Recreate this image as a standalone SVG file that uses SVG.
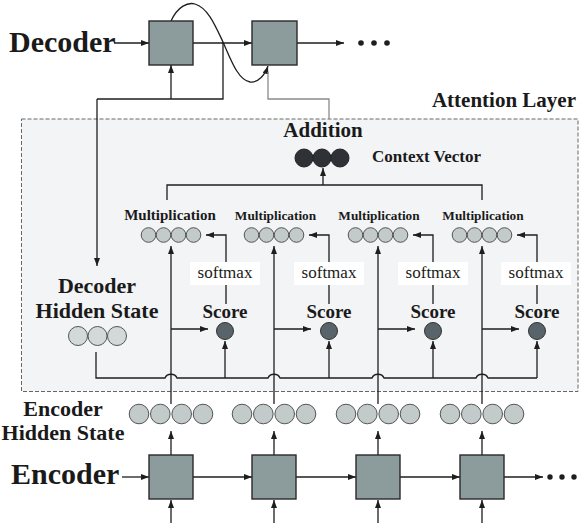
<svg xmlns="http://www.w3.org/2000/svg" width="582" height="523" viewBox="0 0 582 523">
<defs>
<marker id="ah" viewBox="0 0 8 6" refX="8" refY="3" markerWidth="8" markerHeight="6" markerUnits="userSpaceOnUse" orient="auto"><path d="M0,0 L8,3 L0,6 z" fill="#1e1e1e"/></marker>
<style>
text{font-family:"Liberation Serif","Times New Roman",serif;fill:#1a1a1a}
.b{font-weight:bold}
.c{text-anchor:middle}
.box{fill:#8c9b9b;stroke:#2a2a2a;stroke-width:1.4}
.ln{fill:none;stroke:#1e1e1e;stroke-width:1.3}
.ar{fill:none;stroke:#1e1e1e;stroke-width:1.3;marker-end:url(#ah)}
.hs{fill:#c3cbca;stroke:#555;stroke-width:1}
.ds{fill:#d3d9d9;stroke:#555;stroke-width:1}
.sc{fill:#59636a;stroke:#333;stroke-width:1}
.cv{fill:#2e3236;stroke:#222;stroke-width:1}
.sm{fill:#ffffff}
.dot{fill:#1e1e1e}
</style>
</defs>
<rect width="582" height="523" fill="#ffffff"/>

<g id="attention-layer">
<rect x="21.5" y="119" width="556.5" height="272.5" fill="#f3f4f6" stroke="#666" stroke-width="1" stroke-dasharray="4,2"/>
<text class="b" x="576" y="107" font-size="21" text-anchor="end">Attention Layer</text>
</g>

<g id="connectors">
<path class="ar" d="M114,43 L149,43"/>
<path class="ar" d="M193,43 L252,43"/>
<path class="ar" d="M297,43 L344,43"/>
<path class="ar" d="M171,99 L171,65"/>
<path class="ln" d="M223,42 L223,99 L97,99"/>
<path class="ar" d="M97,99 L97,266"/>
<path class="ar" d="M171,21 C178,6 188,2 195,4 C208,8 215,25 223,42 C231,60 238,80 250,82 C258,83 265,75 268,66"/>
<path fill="none" stroke="#8a8a8a" stroke-width="1.3" d="M329,119 L329,99 L268,99 L268,72"/>
<path class="ln" d="M167,200 L167,185 L482,185 L482,200"/>
<path class="ar" d="M323,185 L323,168"/>
<path class="ar" d="M171,404 L171,246"/>
<path class="ar" d="M274,404 L274,246"/>
<path class="ar" d="M378,404 L378,246"/>
<path class="ar" d="M482,404 L482,246"/>
<path class="ar" d="M171,329 L208,329"/>
<path class="ar" d="M274,329 L311,329"/>
<path class="ar" d="M378,329 L415,329"/>
<path class="ar" d="M482,329 L519,329"/>
<path class="ar" d="M226,262 L226,235 L206,235"/>
<path class="ar" d="M329,262 L329,235 L309,235"/>
<path class="ar" d="M433,262 L433,235 L413,235"/>
<path class="ar" d="M537,262 L537,235 L517,235"/>
<path class="ln" d="M226,285 L226,304 M329,285 L329,304 M433,285 L433,304 M537,285 L537,304"/>
<path class="ln" d="M96,352 L96,378 L165,378 C167,373 175,373 177,378 L268,378 C270,373 278,373 280,378 L372,378 C374,373 382,373 384,378 L476,378 C478,373 486,373 488,378 L537,378"/>
<path class="ar" d="M225,378 L225,341"/>
<path class="ar" d="M329,378 L329,341"/>
<path class="ar" d="M433,378 L433,341"/>
<path class="ar" d="M537,378 L537,341"/>
<path class="ar" d="M122,477 L149,477"/>
<path class="ar" d="M193,477 L252,477"/>
<path class="ar" d="M296,477 L356,477"/>
<path class="ar" d="M400,477 L460,477"/>
<path class="ar" d="M504,477 L543,477"/>
<path class="ar" d="M171,455 L171,431"/>
<path class="ar" d="M274,455 L274,431"/>
<path class="ar" d="M378,455 L378,431"/>
<path class="ar" d="M482,455 L482,431"/>
<path class="ar" d="M171,523 L171,500"/>
<path class="ar" d="M274,523 L274,500"/>
<path class="ar" d="M378,523 L378,500"/>
<path class="ar" d="M482,523 L482,500"/>
</g>

<g id="decoder">
<text class="b" x="9" y="52" font-size="30">Decoder</text>
<rect id="dec1" class="box" x="149" y="21" width="44" height="44"/>
<rect id="dec2" class="box" x="252" y="21" width="45" height="44"/>
<circle class="dot" cx="361" cy="43" r="2.8"/>
<circle class="dot" cx="374" cy="43" r="2.8"/>
<circle class="dot" cx="387" cy="43" r="2.8"/>
</g>

<g id="addition">
<text class="b c" x="323" y="137" font-size="21">Addition</text>
</g>

<g id="context-vector">
<circle class="cv" cx="304" cy="158" r="9"/>
<circle class="cv" cx="322" cy="158" r="9"/>
<circle class="cv" cx="340" cy="158" r="9"/>
<text class="b" x="372" y="162" font-size="17">Context Vector</text>
</g>

<g id="mult1">
<text class="b c" x="170" y="220" font-size="15">Multiplication</text>
<circle class="hs" cx="148.5" cy="235" r="7.3"/><circle class="hs" cx="163.5" cy="235" r="7.3"/><circle class="hs" cx="178.5" cy="235" r="7.3"/><circle class="hs" cx="193.5" cy="235" r="7.3"/>
</g>
<g id="mult2">
<text class="b c" x="275.5" y="220" font-size="13.3">Multiplication</text>
<circle class="hs" cx="251.5" cy="235" r="7.3"/><circle class="hs" cx="266.5" cy="235" r="7.3"/><circle class="hs" cx="281.5" cy="235" r="7.3"/><circle class="hs" cx="296.5" cy="235" r="7.3"/>
</g>
<g id="mult3">
<text class="b c" x="379" y="220" font-size="13.3">Multiplication</text>
<circle class="hs" cx="355.5" cy="235" r="7.3"/><circle class="hs" cx="370.5" cy="235" r="7.3"/><circle class="hs" cx="385.5" cy="235" r="7.3"/><circle class="hs" cx="400.5" cy="235" r="7.3"/>
</g>
<g id="mult4">
<text class="b c" x="483" y="220" font-size="13.3">Multiplication</text>
<circle class="hs" cx="459.5" cy="235" r="7.3"/><circle class="hs" cx="474.5" cy="235" r="7.3"/><circle class="hs" cx="489.5" cy="235" r="7.3"/><circle class="hs" cx="504.5" cy="235" r="7.3"/>
</g>

<g id="softmax1"><rect class="sm" x="190" y="262" width="70" height="23"/><text class="c" x="225" y="278" font-size="17">softmax</text></g>
<g id="softmax2"><rect class="sm" x="294" y="262" width="70" height="23"/><text class="c" x="329" y="278" font-size="17">softmax</text></g>
<g id="softmax3"><rect class="sm" x="398" y="262" width="70" height="23"/><text class="c" x="433" y="278" font-size="17">softmax</text></g>
<g id="softmax4"><rect class="sm" x="501" y="262" width="70" height="23"/><text class="c" x="536" y="278" font-size="17">softmax</text></g>

<g id="score1"><text class="b c" x="225" y="318" font-size="19">Score</text><circle class="sc" cx="225" cy="331" r="8.5"/></g>
<g id="score2"><text class="b c" x="329" y="318" font-size="19">Score</text><circle class="sc" cx="329" cy="331" r="8.5"/></g>
<g id="score3"><text class="b c" x="433" y="318" font-size="19">Score</text><circle class="sc" cx="433" cy="331" r="8.5"/></g>
<g id="score4"><text class="b c" x="537" y="318" font-size="19">Score</text><circle class="sc" cx="537" cy="331" r="8.5"/></g>

<g id="decoder-hidden-state">
<text class="b c" x="97" y="293" font-size="22">Decoder</text>
<text class="b c" x="97" y="318" font-size="22">Hidden State</text>
<circle class="ds" cx="78" cy="336" r="9.5"/>
<circle class="ds" cx="97.5" cy="336" r="9.5"/>
<circle class="ds" cx="117" cy="336" r="9.5"/>
</g>

<g id="encoder-hidden-state">
<text class="b c" x="63" y="416" font-size="22">Encoder</text>
<text class="b c" x="63" y="440" font-size="22">Hidden State</text>
<g id="eh1"><circle class="hs" cx="139" cy="414" r="9.8"/><circle class="hs" cx="160.3" cy="414" r="9.8"/><circle class="hs" cx="181.7" cy="414" r="9.8"/><circle class="hs" cx="203" cy="414" r="9.8"/></g>
<g id="eh2"><circle class="hs" cx="242" cy="414" r="9.8"/><circle class="hs" cx="263.3" cy="414" r="9.8"/><circle class="hs" cx="284.7" cy="414" r="9.8"/><circle class="hs" cx="306" cy="414" r="9.8"/></g>
<g id="eh3"><circle class="hs" cx="346" cy="414" r="9.8"/><circle class="hs" cx="367.3" cy="414" r="9.8"/><circle class="hs" cx="388.7" cy="414" r="9.8"/><circle class="hs" cx="410" cy="414" r="9.8"/></g>
<g id="eh4"><circle class="hs" cx="450" cy="414" r="9.8"/><circle class="hs" cx="471.3" cy="414" r="9.8"/><circle class="hs" cx="492.7" cy="414" r="9.8"/><circle class="hs" cx="514" cy="414" r="9.8"/></g>
</g>

<g id="encoder">
<text class="b" x="11" y="484" font-size="30">Encoder</text>
<rect id="enc1" class="box" x="149" y="455" width="44" height="44"/>
<rect id="enc2" class="box" x="252" y="455" width="44" height="44"/>
<rect id="enc3" class="box" x="356" y="455" width="44" height="44"/>
<rect id="enc4" class="box" x="460" y="455" width="44" height="44"/>
<circle class="dot" cx="550" cy="477" r="2.7"/>
<circle class="dot" cx="562" cy="477" r="2.7"/>
<circle class="dot" cx="574" cy="477" r="2.7"/>
</g>
</svg>
